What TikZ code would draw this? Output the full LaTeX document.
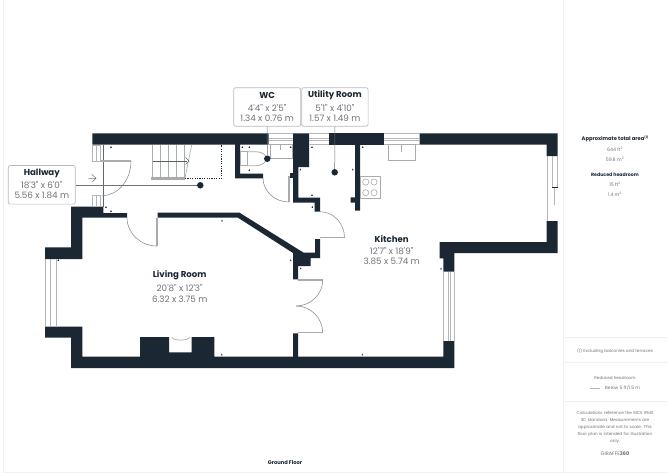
\documentclass[tikz,border=0pt]{standalone}
\usepackage{fontspec}
\newfontfamily\gf{Poppins}
\definecolor{wall}{HTML}{1B2733}
\definecolor{dimtxt}{HTML}{6F7276}
\definecolor{winline}{HTML}{B4B6B8}
\definecolor{leaf}{HTML}{A9ABAD}
\definecolor{frame}{HTML}{F1F1F1}
\definecolor{tag}{HTML}{B8BABC}
\tikzset{
  wallshape/.style={fill=wall,draw=none},
  winbar/.style={draw=winline,line width=.7pt},
  leafbar/.style={draw=leaf,line width=1.4pt},
  swing/.style={draw=leaf!85!black,line width=.6pt},
  fixture/.style={draw=leaf,line width=1pt,fill=white},
  thin fixture/.style={draw=leaf,line width=.6pt},
  tagbox/.style={draw=tag,line width=.7pt,rounded corners=2pt,fill=white,minimum height=38.6pt,inner sep=0pt},
  tagline/.style={draw=black!55,line width=.5pt},
  title/.style={font=\gf\bfseries\fontsize{8.6}{10}\selectfont,text=wall,inner sep=0pt,anchor=center},
  dims/.style={font=\gf\fontsize{8.8}{10}\selectfont,text=dimtxt,inner sep=0pt,anchor=center},
  side/.style={font=\gf\fontsize{4.7}{6}\selectfont,text=dimtxt,inner sep=0pt,anchor=center},
  sidehead/.style={font=\gf\bfseries\fontsize{5.2}{6}\selectfont,text=wall,inner sep=0pt,anchor=center},
  dotmark/.style={circle,fill=wall,inner sep=0pt,minimum size=6.5pt},
}
\newcommand{\tk}[2]{\fill[wall] (#1-.8,#2+.8) -- (#1+.8,#2+.8) -- (#1,#2-1) -- cycle;}
% quarter curve from (a) to (b) with corner (c)
\newcommand{\qarc}[6]{\draw[swing] (#1,#2) .. controls ({#1+.55*(#3-#1)},{#2+.55*(#4-#2)}) and ({#5+.55*(#3-#5)},{#6+.55*(#4-#6)}) .. (#5,#6);}
\begin{document}
\begin{tikzpicture}[x=1pt,y=-1pt]
\useasboundingbox (0,0) rectangle (668,473);
\fill[white] (0,0) rectangle (668,473);
% page frame
\draw[frame,line width=.8pt] (3.3,0) -- (3.3,472) -- (667,472);
\draw[frame,line width=.8pt] (563.5,0) -- (563.5,472);
\draw[frame,line width=.8pt] (563.5,337.3) -- (668,337.3);
\draw[frame,line width=.8pt] (563.5,362.3) -- (668,362.3);
\draw[frame,line width=.8pt] (563.5,401.7) -- (668,401.7);
% walls
\fill[wallshape] (92.3,133.3) -- (268.5,133.3) -- (268.5,144.7) -- (240,144.7) -- (240,173.7) -- (263,173.7) -- (263,178.3) -- (235,178.3) -- (235,144.7) -- (92.3,144.7) -- cycle;
\fill[wallshape] (293,133.3) -- (309,133.3) -- (309,167) -- (298.3,167) -- (298.3,197.7) -- (320,197.7) -- (320,211.7) -- (314.5,211.7) -- (314.5,202.5) -- (293,202.5) -- cycle;
\fill[wallshape] (290,173) rectangle (293,178);
\fill[wallshape] (329,133.3) rectangle (384,144.7);
\fill[wallshape] (419.5,133.3) -- (557.7,133.3) -- (557.7,156) -- (546.7,156) -- (546.7,144.7) -- (419.5,144.7) -- cycle;
\fill[wallshape] (355,144.7) -- (360,144.7) -- (360,210.7) -- (355,210.7) -- (355,202.7) -- (350.7,202.7) -- (350.7,197.3) -- (355,197.3) -- cycle;
\fill[wallshape] (71,206.7) -- (103.3,206.7) -- (103.3,213) -- (127,213) -- (127,217.7) -- (82.3,217.7) -- (82.3,259) -- (45,259) -- (45,247.3) -- (71,247.3) -- cycle;
\fill[wallshape] (45,326.7) -- (82.3,326.7) -- (82.3,356.7) -- (140,356.7) -- (140,337) -- (169,337) -- (169,352.3) -- (191.7,352.3) -- (191.7,337) -- (214.3,337) -- (214.3,356.7) -- (293,356.7) -- (293,333.3) -- (298,333.3) -- (298,356.7) -- (443.3,356.7) -- (443.3,341) -- (454.3,341) -- (454.3,368) -- (71,368) -- (71,337.7) -- (45,337.7) -- cycle;
\fill[wallshape] (157.7,212.7) -- (239.5,212.7) -- (303.3,252.5) -- (315,252.5) -- (315,239) -- (320,239) -- (320,258) -- (310.5,258) -- (310.5,266) -- (298.2,266) -- (298.2,279.3) -- (293,279.3) -- (293,253) -- (238,217.7) -- (157.7,217.7) -- cycle;
\fill[wallshape] (439.7,242) -- (546.7,242) -- (546.7,221) -- (557.7,221) -- (557.7,253) -- (454.3,253) -- (454.3,271.7) -- (443.3,271.7) -- (443.3,258.3) -- (439.7,258.3) -- cycle;
% windows
\foreach \a/\b in {269/292.7,309/329,384/419.5}{
  \draw[winbar] (\a,133.6) -- (\b,133.6) (\a,138.2) -- (\b,138.2) (\a,140.2) -- (\b,140.2) (\a,144.5) -- (\b,144.5);
}
\draw[winbar] (45.3,259) -- (45.3,326.7) (50,259) -- (50,326.7) (56,259) -- (56,326.7);
\draw[winbar] (443.6,271.7) -- (443.6,341) (448.3,271.7) -- (448.3,341) (450.3,271.7) -- (450.3,341) (454,271.7) -- (454,341);
\draw[winbar] (546.9,156) -- (546.9,221) (552,156) -- (552,187) (557.4,156) -- (557.4,187);
\draw[winbar,line width=1pt] (554.5,188) -- (554.5,205);
\draw[wall,line width=1.2pt] (551.5,187.4) -- (558,187.4);
% entrance door
\draw[winbar] (92.6,145) rectangle (100.7,161) (96.5,145) -- (96.5,161);
\draw[winbar] (92.6,195.7) rectangle (100.7,206.7) (96.5,195.7) -- (96.5,206.7);
\draw[wall!70,line width=.5pt] (103.3,145) -- (103.3,207);
\draw[leafbar] (100.7,161) -- (131,161);
\qarc{131}{161}{131}{195.7}{102}{195.7}
% stairs
\draw[winbar,draw=leaf] (152.7,145) -- (152.7,178) (160.7,145) -- (160.7,178) (168.7,145) -- (168.7,178) (176.7,145) -- (176.7,178) (184,145) -- (184,178);
\draw[wall!75,line width=.4pt] (152.7,161) -- (186.5,161);
\draw[thin fixture] (191.7,145) -- (185,178);
\draw[wall!70,line width=.4pt] (185.5,157.5) -- (189,161) -- (185.5,164.5);
\fill[leaf] (151,177) rectangle (185,179.6);
\draw[wall,line width=.6pt,dash pattern=on 1.2pt off 1.2pt] (185,178) -- (221.7,178) -- (221.7,145);
% entry arrow
\draw[dimtxt,line width=.5pt] (88.3,178.3) -- (96,178.3) (91.8,174.3) -- (96,178.3) -- (91.8,182.3);
% other doors
\draw[leafbar] (156.8,217.7) -- (156.8,246);
\qarc{127}{217.7}{127}{246}{156.8}{246}
\draw[leafbar] (288.8,176) -- (288.8,202);
\qarc{263}{178}{263}{202}{288.8}{202}
\draw[leafbar] (320,237.7) -- (344.5,237.7);
\qarc{320}{211.7}{344.5}{211.7}{344.5}{237.7}
\draw[leafbar] (298,280) -- (322.7,280);
\qarc{322.7}{280}{322.7}{306}{296}{306}
\draw[leafbar] (298,332.7) -- (322.7,332.7);
\qarc{322.7}{332.7}{322.7}{306}{296}{306}
% WC fixtures
\draw[thin fixture,line width=.8pt] (240,151.7) rectangle (247,165.7);
\draw[thin fixture,line width=.8pt] (247,151.7) -- (256,151.7) .. controls (262,151.7) and (266,155) .. (267,158.7) .. controls (266,162) and (262,165.7) .. (256,165.7) -- (247,165.7);
\draw[fixture] (270.5,145) rectangle (292,158);
\draw[thin fixture] (280.7,145) -- (280.7,150);
% kitchen fixtures
\draw[fixture] (388.5,145) rectangle (415,160);
\draw[thin fixture] (401.7,145) -- (401.7,152);
\draw[thin fixture,line width=.7pt] (360,176) rectangle (380.3,198.7);
\foreach \x in {365.7,374}{\foreach \y in {182,192.7}{\draw[thin fixture] (\x,\y) circle[radius=3.1];}}
% fireplace
\draw[thin fixture,line width=.7pt] (172,337.4) .. controls (174,341) and (187,341) .. (190,337.4);
% ticks
\foreach \x/\y in {111/147,111/211,106/207,222/220.5,242.3/147,249.3/147,249.3/170,290.7/147,312/147,300.3/169.5,312/195,312.3/207,362.7/147,352.7/169.5,58.3/260,221.7/354.5,290.7/260.3,300.7/268.3,441/268.5,362.3/354.5}{\tk{\x}{\y}}
% room captions
\node[title] (living) at (179.7,275.7) {Living Room};
\node[dims] (livinga) at (179.7,288.5) {20'8" x 12'3"};
\node[dims] (livingb) at (179.7,299) {6.32 x 3.75 m};
\node[title] (kitchen) at (391.7,238.7) {Kitchen};
\node[dims] (kitchena) at (391.7,251) {12'7" x 18'9"};
\node[dims] (kitchenb) at (391.7,261.5) {3.85 x 5.74 m};
% tagged rooms
\node[tagbox,minimum width=67pt] (hallbox) at (41.8,184.8) {};
\node[tagbox,minimum width=67pt] (wcbox) at (267.2,107) {};
\node[tagbox,minimum width=66.4pt] (utilbox) at (334.9,107) {};
\node[dotmark] (halldot) at (200.3,185.3) {};
\node[dotmark] (wcdot) at (267.3,158.7) {};
\node[dotmark] (utildot) at (334.7,172.3) {};
\draw[tagline] (hallbox.east |- halldot) -- (halldot);
\draw[tagline] (wcbox.south) -- (wcdot);
\draw[tagline] (utilbox.south) -- (utildot);
\node[title] (halla) at (41.8,173.3) {Hallway};
\node[dims] (hallb) at (41.8,185.3) {18'3" x 6'0"};
\node[dims] (hallc) at (41.8,195.5) {5.56 x 1.84 m};
\node[title] (wca) at (267.2,95.3) {WC};
\node[dims] (wcb) at (267.2,108) {4'4" x 2'5"};
\node[dims] (wcc) at (267.2,118.2) {1.34 x 0.76 m};
\node[title] (uta) at (334.9,95.3) {Utility Room};
\node[dims] (utb) at (334.9,108) {5'1" x 4'10"};
\node[dims] (utc) at (334.9,118.2) {1.57 x 1.49 m};
% floor name
\node[sidehead,font=\gf\bfseries\fontsize{5.2}{6}\selectfont] (floor) at (285,463) {Ground Floor};
% side panel
\node[sidehead] (s1) at (615,138.7) {Approximate total area{\fontsize{3}{3}\selectfont\raisebox{1.8pt}{(1)}}};
\node[side] (s2) at (615,149.5) {644 ft\textsuperscript{2}};
\node[side] (s3) at (615,159) {59.8 m\textsuperscript{2}};
\node[sidehead,font=\gf\bfseries\fontsize{4.7}{6}\selectfont] (s4) at (615,174.3) {Reduced headroom};
\node[side] (s5) at (615,184.5) {15 ft\textsuperscript{2}};
\node[side] (s6) at (615,194) {1.4 m\textsuperscript{2}};
\node[side,font=\gf\fontsize{4.2}{6}\selectfont] (s7) at (615,351) {(1) Excluding balconies and terraces};
\node[side,font=\gf\fontsize{4.1}{6}\selectfont] (s8) at (615,377.7) {Reduced headroom};
\node[side,anchor=west,font=\gf\fontsize{4.5}{6}\selectfont] (s9) at (605,387.7) {Below 5 ft/1.5 m};
\coordinate (legl) at (590,387.7);
\coordinate (legr) at (600,387.7);
\draw[winline,line width=.4pt] (legl) -- (legr);
\node[side,font=\gf\fontsize{4.15}{6.9}\selectfont,align=center,text width=90pt] (s10) at (615,427.5) {Calculations reference the RICS IPMS\\3C standard. Measurements are\\approximate and not to scale. This\\floor plan is intended for illustration\\only.};
\node[side,font=\gf\fontsize{5}{6}\selectfont] (s11) at (615,454) {GIRAFFE\textbf{360}};
\end{tikzpicture}
\end{document}
